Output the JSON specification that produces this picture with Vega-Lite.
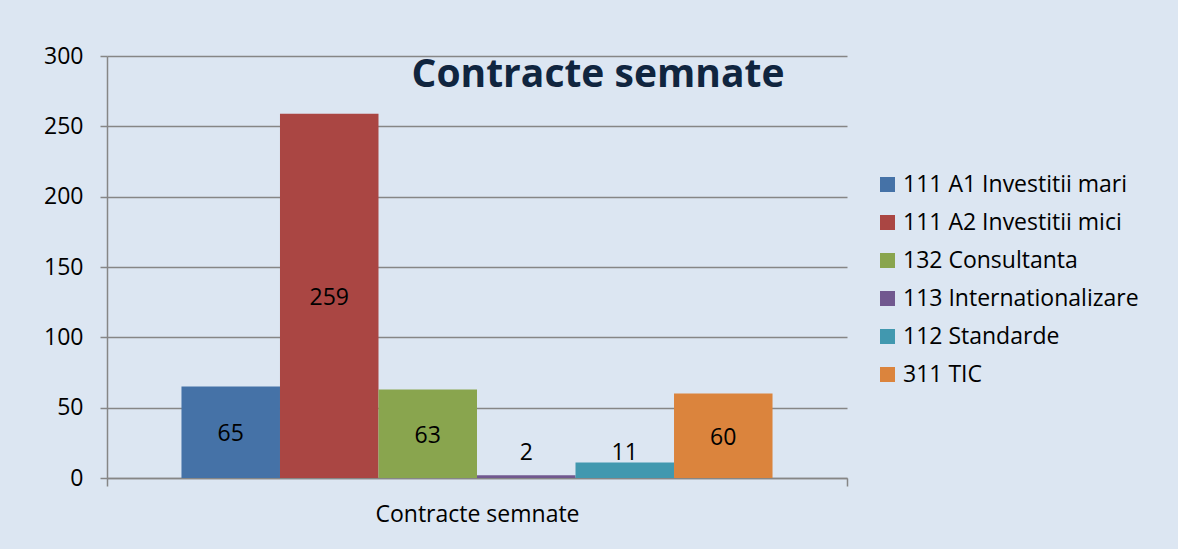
{
  "$schema": "https://vega.github.io/schema/vega-lite/v6.json",
  "autosize": {"type": "none"},
  "padding": {"left": 107, "top": 56, "right": 331, "bottom": 71},
  "width": 740,
  "height": 422,
  "background": "#dce6f2",
  "title": {
    "text": "Contracte semnate",
    "orient": "top",
    "anchor": "middle",
    "dx": 121,
    "offset": -81,
    "baseline": "alphabetic",
    "font": "Open Sans",
    "fontSize": 39,
    "fontWeight": "bold",
    "color": "#10253f"
  },
  "data": {
    "values": [
      {"cat": "Contracte semnate", "serie": "111 A1 Investitii mari", "valoare": 65},
      {"cat": "Contracte semnate", "serie": "111 A2 Investitii mici", "valoare": 259},
      {"cat": "Contracte semnate", "serie": "132 Consultanta", "valoare": 63},
      {"cat": "Contracte semnate", "serie": "113 Internationalizare", "valoare": 2},
      {"cat": "Contracte semnate", "serie": "112 Standarde", "valoare": 11},
      {"cat": "Contracte semnate", "serie": "311 TIC", "valoare": 60}
    ]
  },
  "config": {
    "view": {"stroke": null},
    "font": "Open Sans"
  },
  "encoding": {
    "x": {
      "field": "cat",
      "type": "nominal",
      "title": null,
      "scale": {"paddingInner": 0, "paddingOuter": 0},
      "axis": {
        "labelAngle": 0,
        "labelFont": "Open Sans",
        "labelFontSize": 23,
        "labelColor": "#000000",
        "labelPadding": 35,
        "labelBaseline": "alphabetic",
        "labelLimit": 500,
        "tickBand": "extent",
        "tickSize": 8,
        "tickColor": "#868686",
        "tickWidth": 1.5,
        "domainColor": "#868686",
        "domainWidth": 1.5
      }
    },
    "xOffset": {
      "field": "serie",
      "type": "nominal",
      "sort": null,
      "scale": {"paddingInner": 0, "paddingOuter": 0.756}
    }
  },
  "layer": [
    {
      "mark": {"type": "bar"},
      "encoding": {
        "y": {
          "field": "valoare",
          "type": "quantitative",
          "title": null,
          "scale": {"domain": [0, 300], "nice": false},
          "axis": {
            "values": [0, 50, 100, 150, 200, 250, 300],
            "labelFont": "Open Sans",
            "labelFontSize": 23,
            "labelColor": "#000000",
            "labelPadding": 17,
            "tickSize": 7,
            "tickColor": "#868686",
            "tickWidth": 1.5,
            "gridColor": "#868686",
            "gridWidth": 1.5,
            "domainColor": "#868686",
            "domainWidth": 1.5
          }
        },
        "color": {
          "field": "serie",
          "type": "nominal",
          "sort": null,
          "scale": {
            "range": ["#4572a7", "#aa4643", "#89a54e", "#71588f", "#4198af", "#db843d"]
          },
          "legend": {
            "title": null,
            "orient": "none",
            "legendX": 769,
            "legendY": 117,
            "symbolType": "square",
            "symbolSize": 225,
            "symbolStrokeWidth": 0,
            "symbolOpacity": 1,
            "labelFont": "Open Sans",
            "labelFontSize": 23,
            "labelColor": "#000000",
            "labelOffset": 4,
            "rowPadding": 14,
            "labelLimit": 400
          }
        }
      }
    },
    {
      "transform": [{"calculate": "max(datum.valoare / 2, 19)", "as": "pozitie"}],
      "mark": {"type": "text", "fontSize": 23, "font": "Open Sans", "color": "#000000", "baseline": "middle", "dy": 2},
      "encoding": {
        "y": {"field": "pozitie", "type": "quantitative"},
        "text": {"field": "valoare", "type": "quantitative"}
      }
    }
  ]
}
